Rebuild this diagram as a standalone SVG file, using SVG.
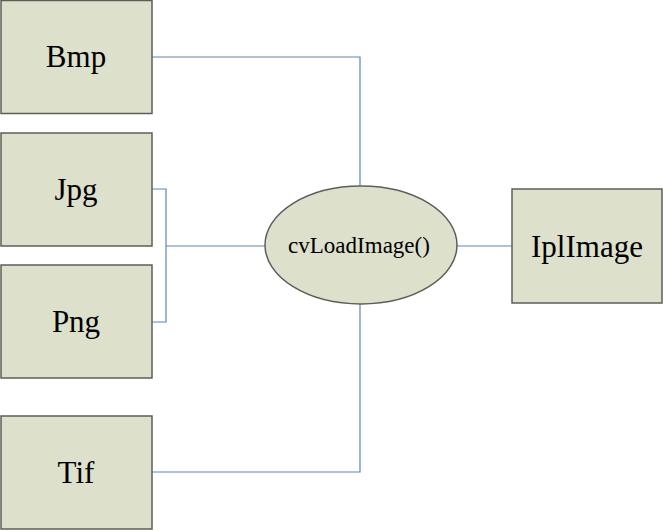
<svg xmlns="http://www.w3.org/2000/svg" width="663" height="530" viewBox="0 0 663 530">
<style>
.box{fill:#DDE0CB;stroke:#5E5E58;stroke-width:1.5}
.lbl{font-family:"Liberation Serif","Times New Roman",serif;fill:#000;text-anchor:middle}
.wire{fill:none;stroke:#5F84BC;stroke-width:1.2}
</style>
<rect width="663" height="530" fill="#fff"/>
<g id="connectors">
<polyline class="wire" points="152,57 360,57 360,186"/>
<polyline class="wire" points="152,189 166,189 166,322 152,322"/>
<line class="wire" x1="166" y1="246" x2="265" y2="246"/>
<polyline class="wire" points="152,472 360,472 360,303"/>
<line class="wire" x1="457" y1="246" x2="512" y2="246"/>
</g>
<g id="bmp"><rect class="box" x="1" y="0.5" width="151" height="113"/><text class="lbl" x="76" y="67" font-size="31">Bmp</text></g>
<g id="jpg"><rect class="box" x="1" y="133" width="151" height="113"/><text class="lbl" x="76" y="200" font-size="31">Jpg</text></g>
<g id="png"><rect class="box" x="1" y="265" width="151" height="113"/><text class="lbl" x="76" y="332" font-size="31">Png</text></g>
<g id="tif"><rect class="box" x="1" y="416" width="151" height="113"/><text class="lbl" x="76" y="483" font-size="31">Tif</text></g>
<g id="cvload"><ellipse class="box" cx="361" cy="245" rx="96" ry="59" stroke="#333" stroke-width="1.2"/><text class="lbl" x="359" y="253" font-size="23">cvLoadImage()</text></g>
<g id="iplimage"><rect class="box" x="512" y="189" width="150" height="114"/><text class="lbl" x="587" y="257" font-size="31">IplImage</text></g>
</svg>
